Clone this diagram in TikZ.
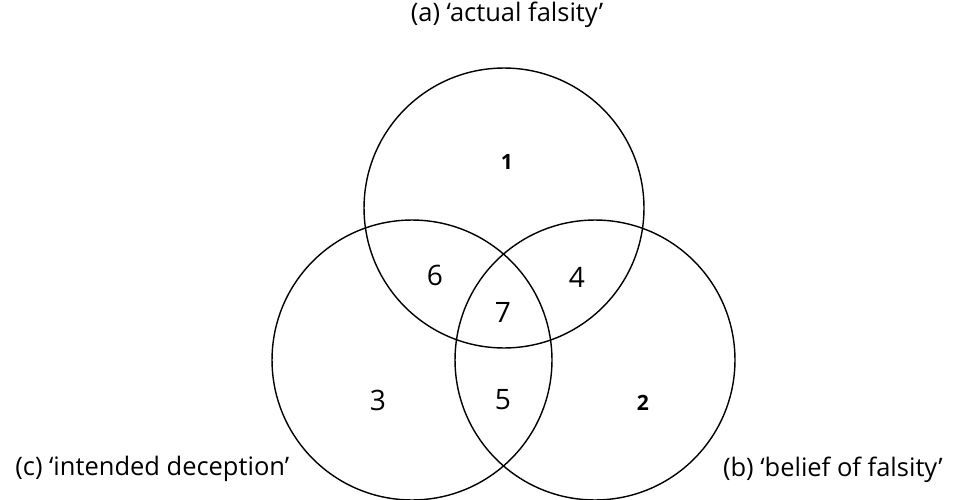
\documentclass[tikz,border=0pt]{standalone}
\usepackage{fontspec}
\setmainfont{Open Sans}
\usepackage{tikz}
\usetikzlibrary{positioning}

\begin{document}
\begin{tikzpicture}[
  x=0.02cm,y=-0.02cm,
  set/.style={draw,circle,line width=0.8pt,minimum size=5.6cm,inner sep=0pt},
  region/.style={font=\fontsize{16}{18}\selectfont},
  small/.style={font=\fontsize{12}{14}\selectfont\bfseries},
  caption/.style={font=\fontsize{14.5}{16}\selectfont,inner sep=0pt}
]
\useasboundingbox (0,0) rectangle (953,500);

% the three sets
\node[set] (actual) at (504,208) {};
\node[set] (intended) at (412,360) {};
\node[set] (belief) at (595,360) {};

% region numbers
\node[small] (r1) at (507,162) {1};
\node[small] (r2) at (643,403) {2};
\node[region] (r3) at (378,400) {3};
\node[region] (r4) at (577,277) {4};
\node[region] (r5) at (503,400) {5};
\node[region] (r6) at (435,275) {6};
\node[region] (r7) at (503,312) {7};

% captions
\node[caption] (capa) at (507,15) {(a) ‘actual falsity’};
\node[caption,anchor=west] (capc) at (15,469) {(c) ‘intended deception’};
\node[caption,anchor=east] (capb) at (943,470) {(b) ‘belief of falsity’};
\end{tikzpicture}
\end{document}
